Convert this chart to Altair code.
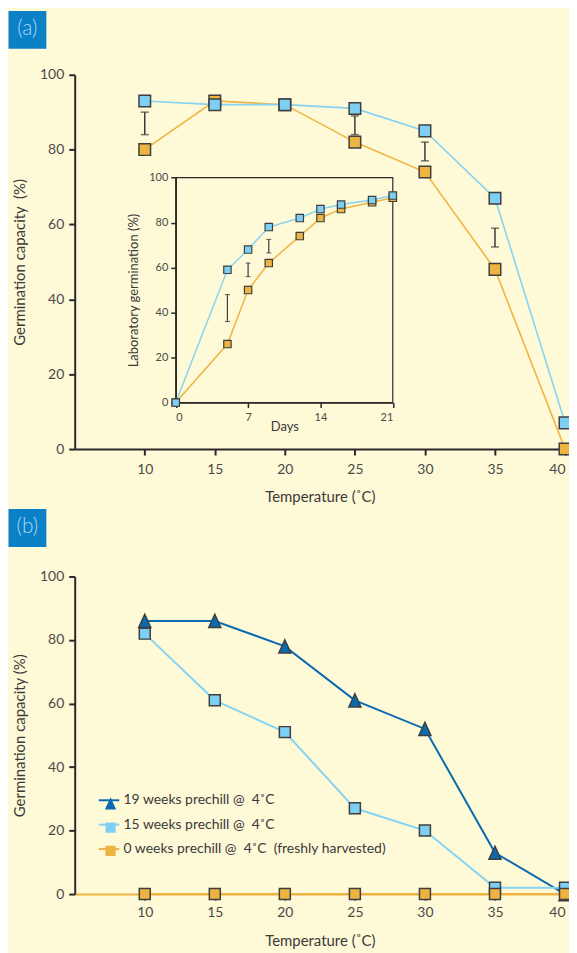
import altair as alt
import pandas as pd

# ---------------- data ----------------
temps = [10, 15, 20, 25, 30, 35, 40]
a_fresh = [80, 93, 92, 82, 74, 48, 0]        # orange squares
a_prechill = [93, 92, 92, 91, 85, 67, 7]     # light-blue squares
a_err_temp = [10, 25, 30, 35]
a_err_lo = [84, 84, 77, 54]
a_err_hi = [90, 89, 82, 59]

days = [0, 5, 7, 9, 12, 14, 16, 19, 21]
in_fresh = [0, 26, 50, 62, 74, 82, 86, 89, 91]
in_prechill = [0, 59, 68, 78, 82, 86, 88, 90, 92]
in_err_day = [5, 7, 9]
in_err_lo = [36, 56, 66.5]
in_err_hi = [48, 62, 72.5]

b_19 = [86, 86, 78, 61, 52, 13, 0]
b_15 = [82, 61, 51, 27, 20, 2, 2]
b_0 = [0, 0, 0, 0, 0, 0, 0]
b_labels = ["19 weeks prechill @ \u00a04˚C", "15 weeks prechill @ \u00a04˚C",
            "0 weeks prechill @ \u00a04˚C \u00a0(freshly harvested)"]

pct_ticks = [0, 20, 40, 60, 80, 100]
day_ticks = [0, 7, 14, 21]

# ---------------- style ----------------
BG = "#FEF9D7"
FONT = "Lato"
AX = "#2a2a2a"
LBL = "#4a4a4a"
TTL = "#3a3a3a"
EDGE = "#3f3f3f"
EB = "#3a3a3a"
LB = "#7ECFF4"
LB_LINE = "#86D3F3"
OR = "#EDB441"
OR_LINE = "#F0B443"
DB = "#0A6BB3"
BOX = "#0A80C6"
BOXTXT = "#A9D8F4"
TRI = "M0,-1.2L1.1,1.2L-1.1,1.2Z"

W_A, H_A = 492.5, 376
W_B, H_B = 492.5, 319
IN_L, IN_R, IN_T, IN_B = 101.5, 319.5, 103.3, 329.3


def ax_main(title, values, **kw):
    opts = dict(title=title, values=values, grid=False, domainColor=AX, domainWidth=2,
                tickColor=AX, tickWidth=2, tickSize=6, labelColor=LBL, labelFont=FONT,
                labelFontSize=14, titleColor=TTL, titleFont=FONT, titleFontSize=15,
                titleFontWeight="normal")
    opts.update(kw)
    return alt.Axis(**opts)


def ax_in(title, values, **kw):
    opts = dict(title=title, values=values, grid=False, domainColor=AX, domainWidth=1.5,
                tickColor=AX, tickWidth=1.5, tickSize=5, labelColor=LBL, labelFont=FONT,
                labelFontSize=11, titleColor=TTL, titleFont=FONT, titleFontSize=13,
                titleFontWeight="normal")
    opts.update(kw)
    return alt.Axis(**opts)


# ---------------- panel (a) main ----------------
def xa(f):
    return alt.X(f"{f}:Q", scale=alt.Scale(domain=[5, 40], nice=False, zero=False),
                 axis=ax_main("Temperature (˚C)", temps, labelPadding=8, titlePadding=13,
                              labelFlush=True))


def ya(f):
    return alt.Y(f"{f}:Q", scale=alt.Scale(domain=[0, 100], nice=False),
                 axis=ax_main("Germination capacity \u00a0(%)", pct_ticks, labelPadding=5, titlePadding=12))


df_a = pd.DataFrame({"temp": temps, "fresh": a_fresh, "prechill": a_prechill})
df_aerr = pd.DataFrame({"temp": a_err_temp, "lo": a_err_lo, "hi": a_err_hi})
base_a = alt.Chart(df_a)
err_a = alt.Chart(df_aerr)

main_a = alt.layer(
    base_a.mark_line(color=OR_LINE, strokeWidth=1.6).encode(x=xa("temp"), y=ya("fresh")),
    base_a.mark_line(color=LB_LINE, strokeWidth=1.6).encode(x=xa("temp"), y=ya("prechill")),
    err_a.mark_rule(color=EB, strokeWidth=1.5).encode(x=xa("temp"), y=ya("lo"), y2="hi"),
    err_a.mark_tick(orient="horizontal", size=8, thickness=1.5, color=EB).encode(x=xa("temp"), y=ya("lo")),
    err_a.mark_tick(orient="horizontal", size=8, thickness=1.5, color=EB).encode(x=xa("temp"), y=ya("hi")),
    base_a.mark_square(size=135, fill=OR, stroke=EDGE, strokeWidth=1.5, opacity=1).encode(x=xa("temp"), y=ya("fresh")),
    base_a.mark_square(size=135, fill=LB, stroke=EDGE, strokeWidth=1.5, opacity=1).encode(x=xa("temp"), y=ya("prechill")),
)


# ---------------- panel (a) inset ----------------
def xin(f):
    return alt.X(f"{f}:Q", scale=alt.Scale(domain=[days[0], days[-1]], range=[IN_L, IN_R], nice=False, zero=False),
                 axis=ax_in("Days", day_ticks, orient="bottom", offset=-(H_A - IN_B),
                            labelPadding=4, titlePadding=-2))


def yin(f):
    return alt.Y(f"{f}:Q", scale=alt.Scale(domain=[0, 100], range=[IN_B, IN_T], nice=False, zero=False),
                 axis=ax_in("Laboratory germination (%)", pct_ticks, orient="left", offset=-IN_L,
                            labelPadding=3, titlePadding=8))


df_in = pd.DataFrame({"day": days, "fresh": in_fresh, "prechill": in_prechill})
df_inerr = pd.DataFrame({"day": in_err_day, "lo": in_err_lo, "hi": in_err_hi})
df_frame = pd.DataFrame({"d0": [days[0]], "d1": [days[-1]], "g0": [pct_ticks[0]], "g1": [pct_ticks[-1]]})
base_in = alt.Chart(df_in)
err_in = alt.Chart(df_inerr)

inset = alt.layer(
    alt.Chart(df_frame).mark_rect(fillOpacity=0, stroke=AX, strokeWidth=1.2).encode(
        x=xin("d0"), x2="d1", y=yin("g0"), y2="g1"),
    base_in.mark_line(color=OR_LINE, strokeWidth=1.5).encode(x=xin("day"), y=yin("fresh")),
    base_in.mark_line(color=LB_LINE, strokeWidth=1.5).encode(x=xin("day"), y=yin("prechill")),
    err_in.mark_rule(color=EB, strokeWidth=1.2).encode(x=xin("day"), y=yin("lo"), y2="hi"),
    err_in.mark_tick(orient="horizontal", size=5, thickness=1.2, color=EB).encode(x=xin("day"), y=yin("lo")),
    err_in.mark_tick(orient="horizontal", size=5, thickness=1.2, color=EB).encode(x=xin("day"), y=yin("hi")),
    base_in.mark_square(size=55, fill=OR, stroke=EDGE, strokeWidth=1.2, opacity=1).encode(x=xin("day"), y=yin("fresh")),
    base_in.mark_square(size=55, fill=LB, stroke=EDGE, strokeWidth=1.2, opacity=1).encode(x=xin("day"), y=yin("prechill")),
)


def panel_label(txt, top):
    d = alt.Chart(pd.DataFrame({"t": [txt]}))
    return alt.layer(
        d.mark_rect(color=BOX).encode(x=alt.value(-66.5), x2=alt.value(-28.5),
                                      y=alt.value(top), y2=alt.value(top + 38)),
        d.mark_text(font=FONT, fontSize=21, fontWeight=300, color=BOXTXT, align="center",
                    baseline="middle").encode(x=alt.value(-47.5), y=alt.value(top + 18.5), text="t:N"),
    )


chart_a = alt.layer(main_a, inset, panel_label("(a)", -64)).resolve_scale(
    x="independent", y="independent").properties(width=W_A, height=H_A)


# ---------------- panel (b) ----------------
def xb(f):
    return alt.X(f"{f}:Q", scale=alt.Scale(domain=[5, 40], nice=False, zero=False),
                 axis=ax_main("Temperature (˚C)", temps, labelPadding=6, titlePadding=14,
                              domainColor=OR_LINE, labelFlush=True))


def yb(f):
    return alt.Y(f"{f}:Q", scale=alt.Scale(domain=[0, 100], nice=False),
                 axis=ax_main("Germination capacity (%)", pct_ticks, labelPadding=5, titlePadding=12))


ZW = "\u200b"
pt_labels = [s + ZW for s in b_labels]
n = len(temps)
df_b = pd.DataFrame({
    "temp": temps * 3,
    "value": b_19 + b_15 + b_0,
    "s1": [b_labels[0]] * n + [b_labels[1]] * n + [b_labels[2]] * n,
    "s2": [pt_labels[0]] * n + [pt_labels[1]] * n + [pt_labels[2]] * n,
})

leg_line = alt.Legend(orient="none", legendX=23, legendY=213.3, title=None, symbolType="stroke",
                      symbolSize=420, symbolStrokeWidth=2, labelFont=FONT, labelFontSize=14,
                      labelColor=TTL, labelOffset=3, rowPadding=5.5, labelLimit=500,
                      direction="vertical")
leg_pts = alt.Legend(orient="none", legendX=29, legendY=725, title=None, symbolSize=105,
                     symbolStrokeColor=EDGE, symbolStrokeWidth=1.5, labelExpr="''",
                     labelFontSize=14, rowPadding=5.3, direction="vertical")

lines_b = alt.Chart(df_b).mark_line(strokeWidth=2).encode(
    x=xb("temp"), y=yb("value"),
    stroke=alt.Stroke("s1:N", scale=alt.Scale(domain=b_labels, range=[DB, LB_LINE, OR_LINE]),
                      legend=leg_line))
pts_b = alt.Chart(df_b).mark_point(filled=True, size=121, strokeWidth=1.5, opacity=1).encode(
    x=xb("temp"), y=yb("value"),
    fill=alt.Fill("s2:N", scale=alt.Scale(domain=pt_labels, range=[DB, LB, OR]), legend=leg_pts),
    shape=alt.Shape("s2:N", scale=alt.Scale(domain=pt_labels, range=[TRI, "square", "square"]),
                    legend=leg_pts),
    stroke=alt.Stroke("s2:N", scale=alt.Scale(domain=pt_labels, range=[EDGE, EDGE, EDGE]),
                      legend=leg_pts))

chart_b = alt.layer(lines_b, pts_b, panel_label("(b)", -67.7)).resolve_scale(
    stroke="independent").properties(width=W_B, height=H_B)

chart = alt.vconcat(chart_a, chart_b, spacing=4).properties(
    background=BG, padding={"left": 0, "top": 0, "right": -6, "bottom": 0}
).configure_view(stroke=None)

chart.save("out.html", embed_options={"renderer": "svg", "actions": False})
